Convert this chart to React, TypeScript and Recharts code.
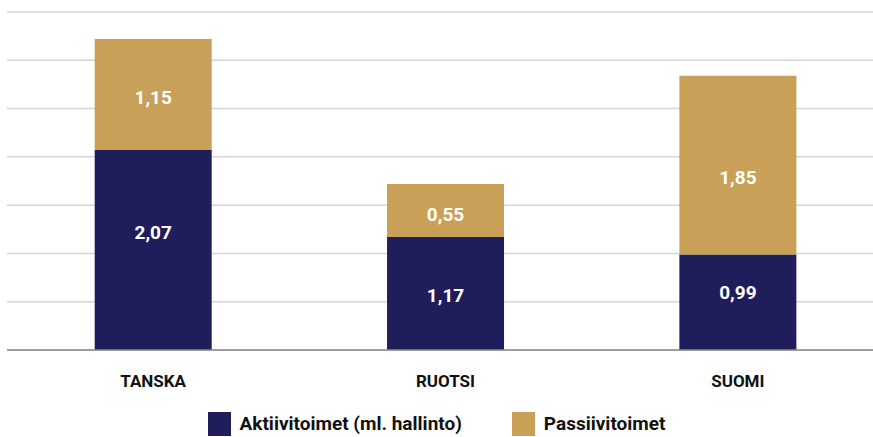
import React from 'react';
import { BarChart, Bar, XAxis, YAxis, CartesianGrid, LabelList } from 'recharts';

const categories = ['TANSKA', 'RUOTSI', 'SUOMI'];
const aktiivi = [2.07, 1.17, 0.99];
const passiivi = [1.15, 0.55, 1.85];
const yTicks = [0, 0.5, 1, 1.5, 2, 2.5, 3, 3.5];

const SERIES = [
  { key: 'aktiivi', name: 'Aktiivitoimet (ml. hallinto)', color: '#1f1d5a' },
  { key: 'passiivi', name: 'Passiivitoimet', color: '#c9a057' },
];

// the original places its value labels by hand, not exactly in the middle
const LABEL_DY: Record<string, number[]> = {
  aktiivi: [-18, 2, -10],
  passiivi: [3, 4, 12],
};

const FONT = 'Roboto, "DejaVu Sans", sans-serif';

const data = categories.map((c, i) => ({
  name: c,
  aktiivi: aktiivi[i],
  passiivi: passiivi[i],
}));

const fmt = (v: any) => String(v).replace('.', ',');

const CategoryTick = ({ x, y, payload }: any) => (
  <text x={x} y={y + 29} textAnchor="middle" fill="#111" fontSize={17} fontWeight="bold" fontFamily={FONT}>
    {payload.value}
  </text>
);

const makeValueLabel = (key: string) => (props: any) => {
  const { x, y, width, height, value, index } = props;
  const dy = LABEL_DY[key][index] || 0;
  return (
    <text
      x={x + width / 2}
      y={y + height / 2 + dy}
      textAnchor="middle"
      dominantBaseline="central"
      fill="#fff"
      fontSize={19}
      fontWeight="bold"
      fontFamily={FONT}
    >
      {fmt(value)}
    </text>
  );
};

export default function App() {
  return (
    <div style={{ position: 'fixed', top: 0, left: 0, width: 873, height: 437, overflow: 'hidden', background: '#fff' }}>
      <BarChart
        width={884}
        height={437}
        data={data}
        margin={{ top: 12, right: 0, left: 7, bottom: 0 }}
        barCategoryGap="30%"
      >
        <CartesianGrid vertical={false} stroke="#d6d6d6" strokeWidth={1.5} />
        <YAxis hide domain={[0, 3.5]} ticks={yTicks} />
        <XAxis
          dataKey="name"
          height={87}
          axisLine={{ stroke: '#8a8a8a', strokeWidth: 1.5 }}
          tickLine={false}
          tick={<CategoryTick />}
          interval={0}
        />
        {SERIES.map((s) => (
          <Bar key={s.key} dataKey={s.key} name={s.name} stackId="a" fill={s.color} isAnimationActive={false}>
            <LabelList dataKey={s.key} content={makeValueLabel(s.key)} />
          </Bar>
        ))}
      </BarChart>
      <div
        style={{
          position: 'absolute',
          top: 412,
          left: 0,
          width: 873,
          height: 24,
          display: 'flex',
          justifyContent: 'center',
          alignItems: 'center',
          fontFamily: FONT,
          fontWeight: 'bold',
          fontSize: 19,
          color: '#111',
          lineHeight: '24px',
        }}
      >
        {SERIES.map((s, i) => (
          <div key={s.key} style={{ display: 'flex', alignItems: 'center', marginLeft: i === 0 ? 0 : 50 }}>
            <span style={{ width: 23, height: 24, background: s.color, display: 'inline-block', marginRight: 9 }} />
            <span>{s.name}</span>
          </div>
        ))}
      </div>
    </div>
  );
}
